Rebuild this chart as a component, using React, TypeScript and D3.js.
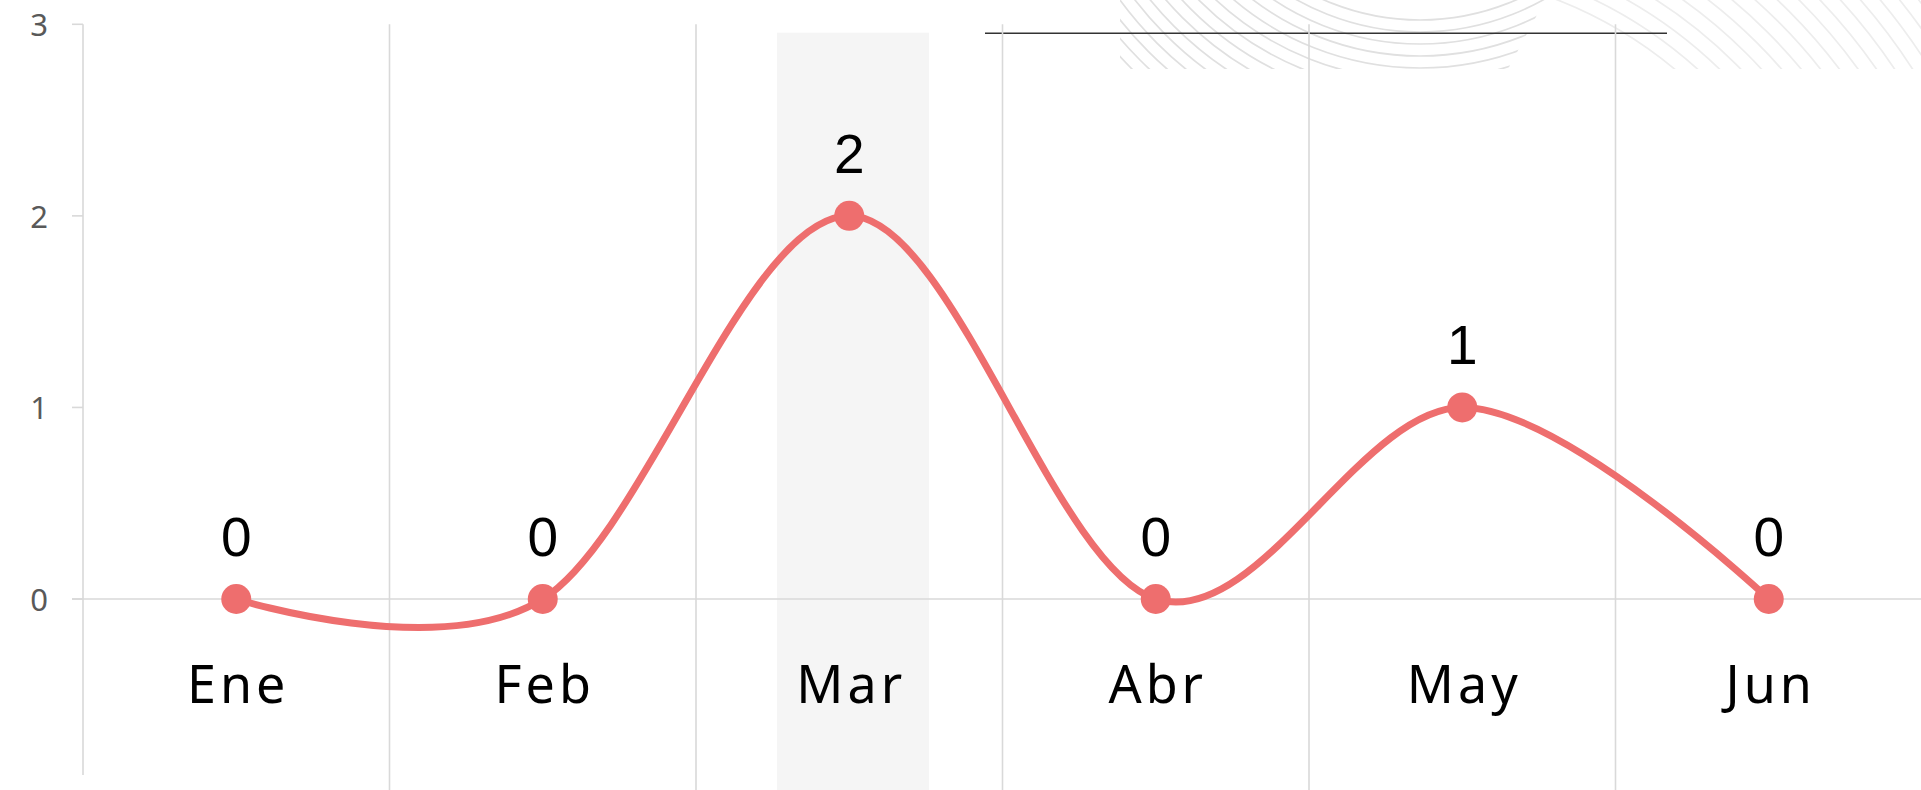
import React from "react";
import * as d3 from "d3";

const months = ["Ene", "Feb", "Mar", "Abr", "May", "Jun"];
const values = [0, 0, 2, 0, 1, 0];
const yTicks = [0, 1, 2, 3];
const highlightMonth = "Mar";

const W = 1921;
const H = 790;

export default function App() {
  const x = d3.scaleBand<string>().domain(months).range([83, 1922]).padding(0);
  const y = d3.scaleLinear().domain([0, 3]).range([599, 24.3]);
  const bw = x.bandwidth();
  const cx = (m: string) => (x(m) as number) + bw / 2;

  const line = d3
    .line<number>()
    .x((_, i) => cx(months[i]))
    .y((v) => y(v))
    .curve(d3.curveCardinal.tension(0));

  // decorative wave pattern (top right)
  const radiiA = d3.range(240, 520, 12);
  const radiiB = d3.range(430, 700, 15);

  const hx = x(highlightMonth) as number;

  return (
    <svg
      width={W}
      height={H}
      style={{ position: "absolute", left: 0, top: 0, background: "#fff" }}
    >
      <defs>
        <clipPath id="decoClipA">
          <polygon points="1120,0 1545,0 1508,69 1120,69" />
        </clipPath>
        <clipPath id="decoClipB">
          <polygon points="1545,0 1921,0 1921,69 1508,69" />
        </clipPath>
      </defs>
      <g clipPath="url(#decoClipA)" fill="none" strokeWidth={1.7}>
        {radiiA.map((r) => (
          <circle key={"a" + r} cx={1420} cy={-220} r={r} stroke="#e0e0e0" />
        ))}
      </g>
      <g clipPath="url(#decoClipB)" fill="none" strokeWidth={1.7}>
        {radiiB.map((r) => (
          <circle key={"b" + r} cx={1400} cy={400} r={r} stroke="#ededed" />
        ))}
      </g>
      <line x1={985} x2={1667} y1={33.3} y2={33.3} stroke="#333" strokeWidth={1.4} />

      {/* highlight band */}
      <rect x={hx + bw * 0.264} y={32.7} width={bw * 0.496} height={H - 32.7} fill="#f5f5f5" />

      {/* vertical gridlines */}
      {months.slice(1).map((m) => (
        <line
          key={m}
          x1={x(m) as number}
          x2={x(m) as number}
          y1={y(3)}
          y2={H}
          stroke="#d9d9d9"
          strokeWidth={1.6}
        />
      ))}
      {/* y axis */}
      <line x1={83} x2={83} y1={y(3)} y2={775} stroke="#d9d9d9" strokeWidth={1.6} />
      {yTicks.map((t) => (
        <g key={t}>
          <line x1={72} x2={83} y1={y(t)} y2={y(t)} stroke="#d9d9d9" strokeWidth={1.6} />
          <text
            x={48}
            y={y(t)}
            textAnchor="end"
            dominantBaseline="central"
            fontFamily="'Noto Sans', sans-serif"
            fontSize={31}
            fill="#595959"
          >
            {t}
          </text>
        </g>
      ))}
      {/* zero line */}
      <line x1={72} x2={W} y1={y(0)} y2={y(0)} stroke="#d9d9d9" strokeWidth={1.6} />

      {/* series */}
      <path d={line(values) ?? ""} fill="none" stroke="#ee6e6e" strokeWidth={7} />
      {values.map((v, i) => (
        <circle key={i} cx={cx(months[i])} cy={y(v)} r={15} fill="#ee6e6e" />
      ))}
      {values.map((v, i) => (
        <text
          key={"l" + i}
          x={cx(months[i])}
          y={y(v) - 43}
          textAnchor="middle"
          fontFamily="'Liberation Sans', Arial, sans-serif"
          fontSize={55}
          fill="#000"
        >
          {v}
        </text>
      ))}

      {/* month labels */}
      {months.map((m) => (
        <text
          key={m}
          x={cx(m) + 2}
          y={703}
          textAnchor="middle"
          fontFamily="'Noto Sans', sans-serif"
          fontSize={52}
          letterSpacing={4}
          fill="#000"
        >
          {m}
        </text>
      ))}
    </svg>
  );
}
